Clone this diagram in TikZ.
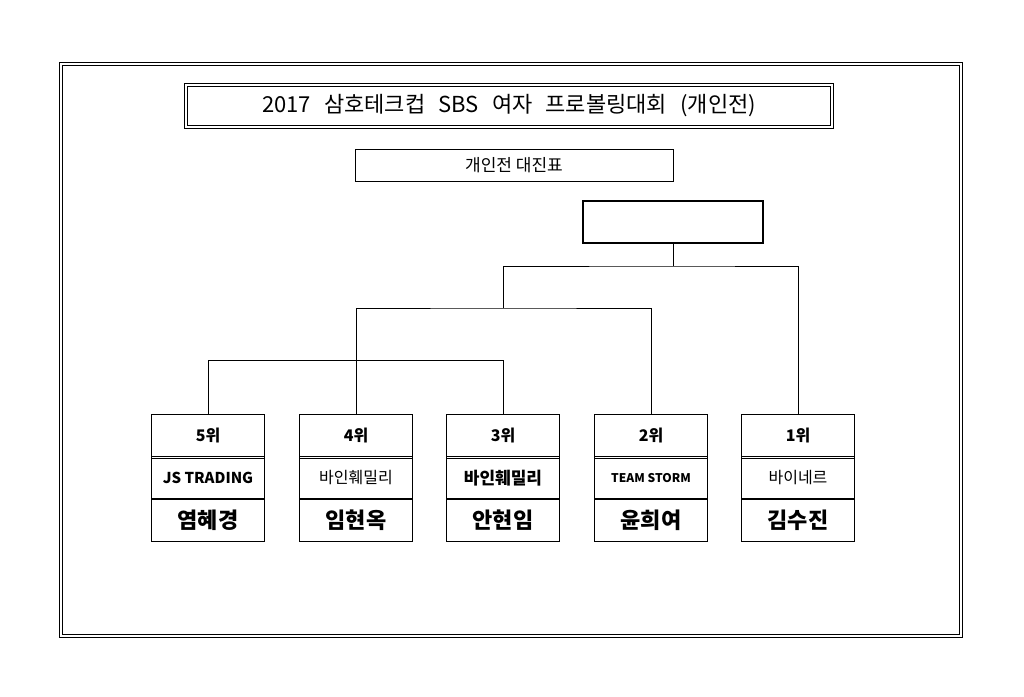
\documentclass[tikz,border=0pt]{standalone}
\usepackage{fontspec}
\setmainfont{Noto Sans CJK KR}
\usetikzlibrary{positioning}

\tikzset{
  dbox/.style={draw,double,double distance=2pt,line width=0.8pt},
  cell/.style={draw,line width=0.8pt,minimum width=113pt,minimum height=42pt,inner sep=0pt},
  link/.style={line width=0.8pt}
}
\newcommand{\player}[5]{%
  \node[cell,font=\bfseries\fontsize{16}{16}\selectfont] (r#1) at (#2,435) {#3};
  \node[cell,below=0pt of r#1] (t#1) {#4};
  \node[cell,below=0pt of t#1,font=\bfseries\fontsize{22}{22}\selectfont] (n#1) {#5};
  \draw[line width=0.5pt] ([yshift=-2pt]r#1.south west) -- ([yshift=-2pt]r#1.south east);
}

\begin{document}
\begin{tikzpicture}[x=1pt,y=-1pt]
\useasboundingbox (0,0) rectangle (1024,696);
% frames
\draw[dbox] (61,64) rectangle (961,636);
\node[dbox,minimum width=646pt,minimum height=42pt,font=\fontsize{22}{22}\selectfont] (title) at (509,106) {\spaceskip 0.6em\relax 2017 삼호테크컵 SBS 여자 프로볼링대회 (개인전)};
\node[draw,line width=0.8pt,minimum width=318pt,minimum height=32pt,font=\fontsize{17}{17}\selectfont] (sub) at (514,165) {개인전 대진표};
\node[draw,line width=2pt,minimum width=180pt,minimum height=42pt] (win) at (673,222) {};
% players
\player{5}{208}{5위}{\fontsize{15}{15}\selectfont\bfseries JS TRADING}{염혜경}
\player{4}{356}{4위}{\fontsize{16}{16}\selectfont 바인훼밀리}{임현옥}
\player{3}{503}{3위}{\fontsize{17}{17}\selectfont\bfseries 바인훼밀리}{안현임}
\player{2}{651}{2위}{\fontsize{12}{12}\selectfont\bfseries TEAM STORM}{윤희여}
\player{1}{798}{1위}{\fontsize{16}{16}\selectfont 바이네르}{김수진}
% bracket
\draw[link] (r5.north) |- (503,360) -| (r3.north);
\draw[link] (356,360) |- (503,308) -| (r2.north);
\draw[link] (356,360) -- (r4.north);
\draw[link] (503,308) |- (673,266) -| (r1.north);
\draw[link] (673,266) -- (win.south);
\end{tikzpicture}
\end{document}
